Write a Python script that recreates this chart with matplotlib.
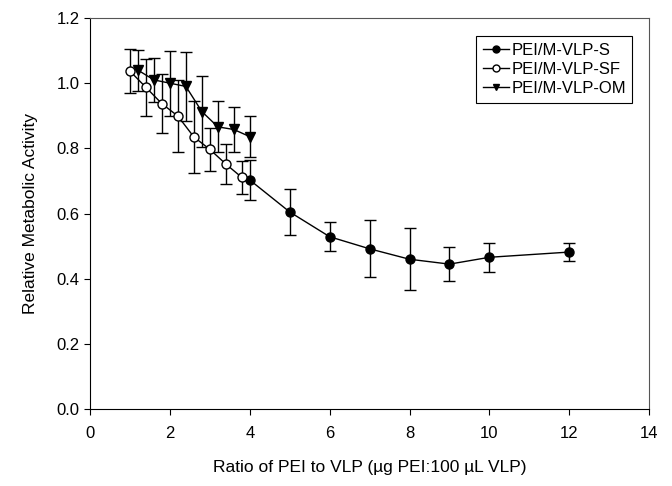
import matplotlib.pyplot as plt
from matplotlib.lines import Line2D

plt.rcParams['font.family'] = ['Liberation Sans', 'DejaVu Sans']

# PEI/M-VLP-S
x_s = [4, 5, 6, 7, 8, 9, 10, 12]
y_s = [0.703, 0.605, 0.529, 0.492, 0.460, 0.445, 0.466, 0.482]
e_s = [0.060, 0.070, 0.045, 0.087, 0.095, 0.053, 0.044, 0.027]

# PEI/M-VLP-SF
x_sf = [1.0, 1.4, 1.8, 2.2, 2.6, 3.0, 3.4, 3.8]
y_sf = [1.037, 0.987, 0.937, 0.899, 0.835, 0.797, 0.752, 0.711]
e_sf = [0.067, 0.088, 0.090, 0.110, 0.110, 0.065, 0.062, 0.050]

# PEI/M-VLP-OM
x_om = [1.2, 1.6, 2.0, 2.4, 2.8, 3.2, 3.6, 4.0]
y_om = [1.040, 1.010, 1.000, 0.990, 0.913, 0.866, 0.858, 0.836]
e_om = [0.063, 0.067, 0.100, 0.105, 0.110, 0.078, 0.070, 0.063]

labels = ['PEI/M-VLP-S', 'PEI/M-VLP-SF', 'PEI/M-VLP-OM']

fig = plt.figure(figsize=(6.72, 4.86), dpi=100)
ax = fig.add_axes([0.134, 0.158, 0.832, 0.805])

kw = dict(color='black', lw=1, ecolor='black', elinewidth=1, capsize=4.5, capthick=1, ms=6.5)
ax.errorbar(x_s, y_s, yerr=e_s, fmt='-o', mfc='black', **kw)
ax.errorbar(x_sf, y_sf, yerr=e_sf, fmt='-o', mfc='white', **kw)
ax.errorbar(x_om, y_om, yerr=e_om, fmt='-v', mfc='black', **kw)

ax.set_xlim(0, 14)
ax.set_ylim(0, 1.2)
ax.set_xticks(range(0, 15, 2))
ax.set_yticks([0.0, 0.2, 0.4, 0.6, 0.8, 1.0, 1.2])
ax.set_yticklabels(['0.0', '0.2', '0.4', '0.6', '0.8', '1.0', '1.2'])
ax.tick_params(direction='out', length=4, labelsize=12, top=False, right=False)
ax.tick_params(axis='x', pad=8)
for s in ['top', 'right']:
    ax.spines[s].set_color('#555555')
ax.set_xlabel('Ratio of PEI to VLP (µg PEI:100 µL VLP)', fontsize=12.5, labelpad=14)
ax.set_ylabel('Relative Metabolic Activity', fontsize=12.5, labelpad=13)

handles = [
    Line2D([], [], color='black', lw=1, marker='o', mfc='black', ms=5),
    Line2D([], [], color='black', lw=1, marker='o', mfc='white', ms=5),
    Line2D([], [], color='black', lw=1, marker='v', mfc='black', ms=5),
]
leg = ax.legend(handles, labels, loc='upper right', bbox_to_anchor=(0.985, 0.975), fontsize=12,
                handlelength=1.6, handletextpad=0.1, borderpad=0.4,
                labelspacing=0.25, fancybox=False, framealpha=1, edgecolor='black')
leg.get_frame().set_linewidth(0.8)

fig.savefig('out.png', dpi=100)
